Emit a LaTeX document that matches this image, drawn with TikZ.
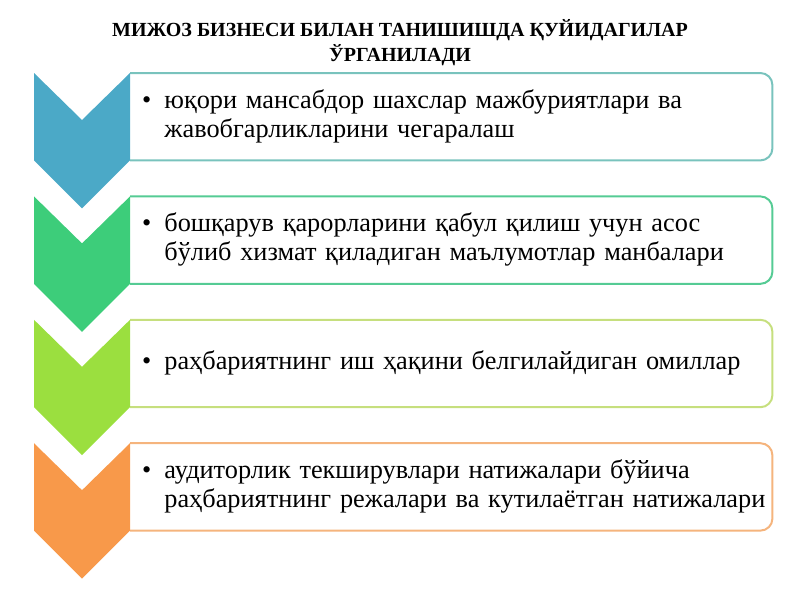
\documentclass[tikz,border=0pt]{standalone}
\usepackage{fontspec}
\setmainfont{Liberation Serif}
\newfontfamily\itemfont{Liberation Serif}[WordSpace=0.75]
\usepackage{xcolor}
\usepackage{tikz}
\usetikzlibrary{positioning}

\definecolor{chevblue}{HTML}{4BA9C7}
\definecolor{chevgreen}{HTML}{3DCD7A}
\definecolor{chevlime}{HTML}{9BDF3F}
\definecolor{chevorange}{HTML}{F8994A}
\definecolor{edgeblue}{HTML}{79C3BD}
\definecolor{edgegreen}{HTML}{55CB94}
\definecolor{edgelime}{HTML}{C6DF7E}
\definecolor{edgeorange}{HTML}{F5B47D}

\begin{document}
\begin{tikzpicture}[
    x=1pt, y=-1pt,
    node distance=36pt,
    title/.style={align=center, font=\fontsize{20}{25}\selectfont\bfseries},
    item/.style={rectangle, anchor=north west, text width=618pt, inner xsep=12pt, minimum height=87pt, align=left, font=\itemfont\fontsize{26.3}{29}\selectfont},
    frame/.style={line width=2pt, rounded corners=12pt},
    chev/.style={line width=0pt}
]
\useasboundingbox (0,0) rectangle (800,600);

% Title
\node[title] (heading) at (400,43) {МИЖОЗ БИЗНЕСИ БИЛАН ТАНИШИШДА ҚУЙИДАГИЛАР\\ЎРГАНИЛАДИ};

% Boxes with text
\node[item] (item1) at (130,73) {\begin{tabular}{@{}l@{\hspace{13pt}}l@{}}\textbullet & юқори мансабдор шахслар мажбуриятлари ва\\ & жавобгарликларини чегаралаш\end{tabular}};
\node[item, below=of item1.south west, anchor=north west] (item2) {\begin{tabular}{@{}l@{\hspace{13pt}}l@{}}\textbullet & бошқарув қарорларини қабул қилиш учун асос\\ & бўлиб хизмат қиладиган маълумотлар манбалари\end{tabular}};
\node[item, below=of item2.south west, anchor=north west] (item3) {\begin{tabular}{@{}l@{\hspace{13pt}}l@{}}\textbullet & раҳбариятнинг иш ҳақини белгилайдиган омиллар\end{tabular}};
\node[item, below=of item3.south west, anchor=north west] (item4) {\begin{tabular}{@{}l@{\hspace{13pt}}l@{}}\textbullet & аудиторлик текширувлари натижалари бўйича\\ & раҳбариятнинг режалари ва кутилаётган натижалари\end{tabular}};

% Frames
\draw[frame, edgeblue] (item1.north west) -- (item1.north east) -- (item1.south east) -- (item1.south west);
\draw[frame, edgegreen] (item2.north west) -- (item2.north east) -- (item2.south east) -- (item2.south west);
\draw[frame, edgelime] (item3.north west) -- (item3.north east) -- (item3.south east) -- (item3.south west);
\draw[frame, edgeorange] (item4.north west) -- (item4.north east) -- (item4.south east) -- (item4.south west);

% Chevrons on the left
\fill[chev, chevblue] ([xshift=-96pt]item1.north west) -- ([xshift=-48pt,yshift=-47pt]item1.north west) -- (item1.north west) -- (item1.south west) -- ([xshift=-48pt,yshift=-48pt]item1.south west) -- ([xshift=-96pt]item1.south west) -- cycle;
\fill[chev, chevgreen] ([xshift=-96pt]item2.north west) -- ([xshift=-48pt,yshift=-47pt]item2.north west) -- (item2.north west) -- (item2.south west) -- ([xshift=-48pt,yshift=-48pt]item2.south west) -- ([xshift=-96pt]item2.south west) -- cycle;
\fill[chev, chevlime] ([xshift=-96pt]item3.north west) -- ([xshift=-48pt,yshift=-47pt]item3.north west) -- (item3.north west) -- (item3.south west) -- ([xshift=-48pt,yshift=-48pt]item3.south west) -- ([xshift=-96pt]item3.south west) -- cycle;
\fill[chev, chevorange] ([xshift=-96pt]item4.north west) -- ([xshift=-48pt,yshift=-47pt]item4.north west) -- (item4.north west) -- (item4.south west) -- ([xshift=-48pt,yshift=-48pt]item4.south west) -- ([xshift=-96pt]item4.south west) -- cycle;

\end{tikzpicture}
\end{document}
